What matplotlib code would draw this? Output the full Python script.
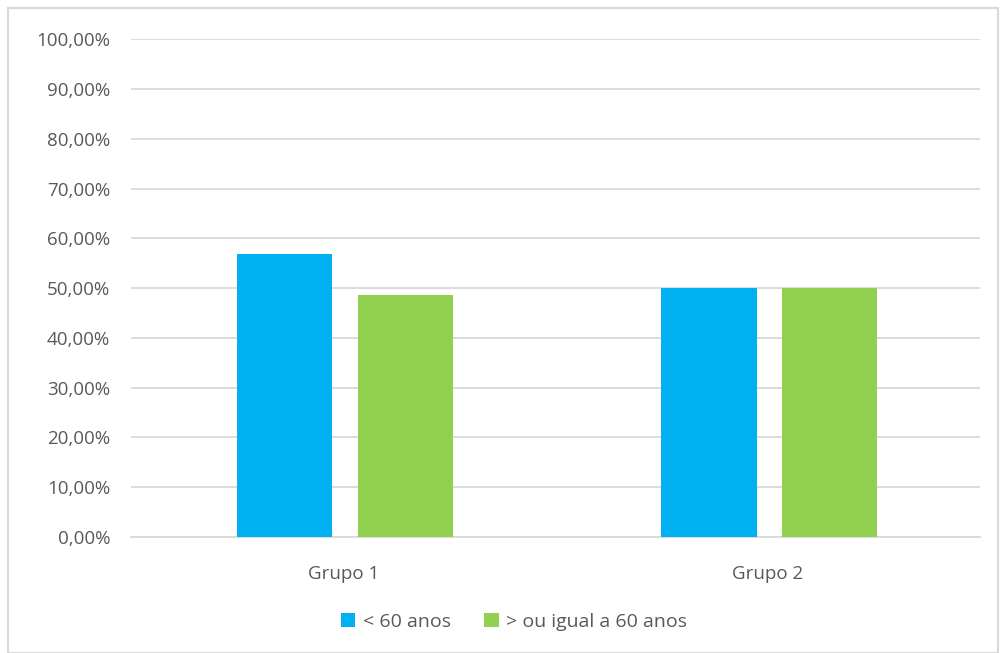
import matplotlib.pyplot as plt
from matplotlib.patches import Rectangle
import numpy as np

grupos = ["Grupo 1", "Grupo 2"]
menos_60 = [56.8, 50.0]
mais_60 = [48.6, 50.0]
series_labels = ["< 60 anos", "> ou igual a 60 anos"]
yticks = np.arange(0, 101, 10)
ytick_labels = [f"{v},00%" for v in yticks]

plt.rcParams['font.family'] = ['Open Sans', 'DejaVu Sans']
text_color = '#595959'

fig = plt.figure(figsize=(10, 6.53), dpi=100)
ax = fig.add_axes([0.131, 0.1776, 0.849, 0.7624])

x = np.arange(len(grupos))
w = 0.224
off = 0.1425
ax.bar(x - off + 0.004, menos_60, w, color='#00B0F0', label=series_labels[0], zorder=3)
ax.bar(x + off + 0.004, mais_60, w, color='#92D050', label=series_labels[1], zorder=3)

ax.set_xlim(-0.5, 1.5)
ax.set_ylim(0, 100)
ax.set_yticks(yticks)
ax.set_yticklabels(ytick_labels)
ax.set_xticks(x)
ax.set_xticklabels(grupos)
ax.tick_params(axis='both', length=0, labelsize=13.5, colors=text_color)
ax.tick_params(axis='y', pad=15)
ax.tick_params(axis='x', pad=20)
ax.grid(True, axis='y', color='#D9D9D9', linewidth=1.3, zorder=0)
for s in ['top', 'right', 'left']:
    ax.spines[s].set_visible(False)
ax.spines['bottom'].set_color('#D9D9D9')
ax.spines['bottom'].set_linewidth(1.3)

leg = fig.legend(loc='center', bbox_to_anchor=(0.514, 0.048), ncol=2, frameon=False,
                 fontsize=14, handlelength=0.75, handleheight=0.75, handletextpad=0.4,
                 columnspacing=1.7)
for t in leg.get_texts():
    t.set_color(text_color)

fig.patches.append(Rectangle((0.008, 0.0), 0.99, 0.988, transform=fig.transFigure,
                             fill=False, edgecolor='#D9D9D9', linewidth=1.5))

fig.savefig('out.png', dpi=100)
